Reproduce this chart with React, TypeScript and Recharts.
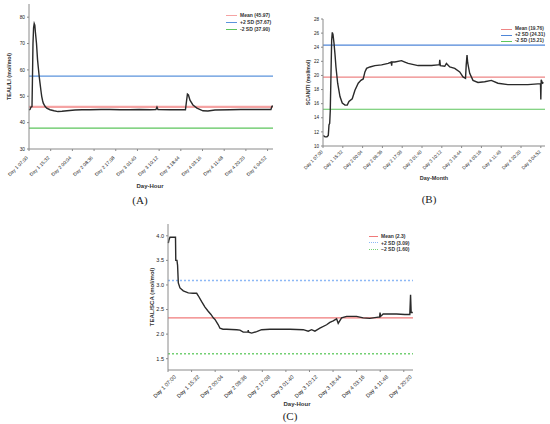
import React from 'react';
import { LineChart, Line, XAxis, YAxis, ReferenceLine } from 'recharts';

// ---- shared x ticks (minutes since Day 1 07:00) ----
const tickMinutes = [0, 512, 1024, 1536, 2048, 2560, 3072, 3584, 4096, 4608, 5120, 5632];
const tickLabels = ['Day 1 07:00', 'Day 1 15:32', 'Day 2 00:04', 'Day 2 08:36', 'Day 2 17:08', 'Day 3 01:40', 'Day 3 10:12', 'Day 3 18:44', 'Day 4 03:16', 'Day 4 11:48', 'Day 4 20:20', 'Day 5 04:52'];
const tickMinutesC = [0, 512, 1024, 1536, 2048, 2560, 3072, 3584, 4096, 4608, 5120];

// ---- Panel A: TEAL/LI ----
const timeA = [0, 24, 47, 71, 80, 94, 108, 123, 137, 153, 177, 201, 219, 241, 260, 283, 300, 319, 337, 378, 418, 496, 590, 684, 779, 897, 1086, 1250, 1440, 1700, 1912, 2150, 2384, 2600, 2856, 2997, 3021, 3044, 3328, 3693, 3717, 3740, 3764, 3800, 3870, 3965, 4106, 4224, 4390, 4744, 5000, 5216, 5570, 5711, 5735, 5758];
const valA = [44.9, 45.0, 45.9, 46.1, 55, 70, 76, 77.6, 77, 74, 70, 64, 61, 57.5, 55, 52, 50, 48.5, 47.4, 46.2, 45.5, 44.9, 44.5, 44.2, 44.3, 44.5, 44.8, 44.9, 44.9, 45.0, 45.0, 44.9, 44.9, 45.0, 44.9, 45.0, 45.9, 45.0, 44.9, 44.9, 48, 50.8, 50.5, 48.5, 46.7, 45.5, 44.5, 44.4, 44.8, 44.9, 45.0, 45.0, 45.0, 45.0, 46.2, 46.3];
const refA = [45.97, 57.67, 37.9];
const legendA = ['Mean (45.97)', '+2 SD (57.67)', '-2 SD (37.90)'];
const yTicksA = [30, 40, 50, 60, 70, 80];

// ---- Panel B: SCAN/TI ----
const timeB = [8, 52, 103, 137, 155, 173, 188, 206, 224, 240, 258, 284, 310, 335, 379, 439, 498, 568, 627, 671, 756, 826, 911, 980, 1040, 1084, 1127, 1213, 1342, 1514, 1685, 1767, 1775, 1785, 1858, 2030, 2116, 2201, 2459, 2804, 2975, 3008, 3019, 3034, 3148, 3191, 3277, 3406, 3535, 3620, 3685, 3703, 3724, 3741, 3793, 3878, 4007, 4180, 4352, 4523, 4781, 4954, 5297, 5555, 5624, 5632, 5642, 5676, 5702];
const valB = [11.5, 11.3, 11.3, 11.5, 13, 13.2, 15, 20, 25, 26.1, 25.8, 24.6, 23, 21.2, 18.9, 17, 16.1, 15.8, 15.8, 16.3, 16.7, 17.9, 18.9, 19.3, 19.5, 20.5, 21.0, 21.2, 21.4, 21.5, 21.7, 21.9, 21.4, 21.9, 21.9, 22.1, 21.9, 21.7, 21.4, 21.4, 21.5, 21.5, 22.2, 21.4, 21.3, 21.7, 21.2, 21.0, 20.5, 19.8, 19.6, 21.5, 22.9, 21.8, 20.3, 19.3, 19.0, 19.1, 19.3, 18.9, 18.7, 18.7, 18.7, 18.8, 18.8, 16.6, 19.4, 18.9, 19.0];
const refB = [19.76, 24.31, 15.21];
const legendB = ['Mean (19.76)', '+2 SD (24.31)', '-2 SD (15.21)'];
const yTicksB = [10, 12, 14, 16, 18, 20, 22, 24, 26, 28];

// ---- Panel C: TEAL/SCA ----
const timeC = [7, 22, 43, 109, 163, 169, 195, 208, 224, 260, 332, 441, 543, 623, 658, 731, 803, 868, 933, 983, 1020, 1092, 1128, 1194, 1274, 1491, 1562, 1634, 1736, 1742, 1751, 1816, 1925, 2033, 2213, 2430, 2647, 2936, 3045, 3118, 3190, 3298, 3444, 3515, 3587, 3661, 3696, 3769, 3878, 4095, 4238, 4383, 4528, 4596, 4604, 4617, 4672, 4963, 5143, 5251, 5267, 5280, 5316];
const valC = [3.85, 3.92, 3.97, 3.97, 3.97, 3.5, 3.5, 3.4, 3.04, 2.94, 2.88, 2.84, 2.83, 2.83, 2.78, 2.66, 2.55, 2.47, 2.40, 2.33, 2.30, 2.19, 2.12, 2.10, 2.10, 2.09, 2.08, 2.04, 2.04, 2.08, 2.04, 2.02, 2.05, 2.09, 2.10, 2.10, 2.10, 2.09, 2.06, 2.09, 2.06, 2.12, 2.19, 2.24, 2.27, 2.31, 2.22, 2.33, 2.36, 2.36, 2.33, 2.32, 2.34, 2.35, 2.44, 2.36, 2.41, 2.41, 2.40, 2.40, 2.80, 2.44, 2.44];
const refC = [2.33, 3.09, 1.6];
const legendC = ['Mean (2.3)', '+2 SD (3.09)', '\u22122 SD (1.60)'];
const yTicksC = [1.5, 2.0, 2.5, 3.0, 3.5, 4.0];

const refColorsA = ['#f5a3a3', '#5b93dc', '#5cc55c'];
const refColorsB = ['#ee8585', '#4f86d8', '#5cc55c'];
const refColorsC = ['#f07a7a', '#8db8f5', '#73d073'];

const FONT = '"Liberation Sans", Arial, sans-serif';
const AXIS = '#8a8a8a';

function makeRows(times: number[], vals: number[]) {
  return times.map((t, i) => ({ t, v: vals[i] }));
}

const RotTick = (props: any) => {
  const { x, y, payload, fs, labels, ticks, ox, oy } = props;
  const idx = ticks.indexOf(payload.value);
  return (
    <g transform={`translate(${x + ox},${y + oy})`}>
      <text x={0} y={0} dy={fs * 0.35} textAnchor="end" transform="rotate(-45)" fontSize={fs} fill="#222" fontFamily={FONT}>
        {labels[idx]}
      </text>
    </g>
  );
};

type PanelProps = {
  left: number; top: number; width: number; height: number;
  margin: any; yWidth: number; xHeight: number;
  rows: any[]; xDomain: number[]; yDomain: number[]; yTicks: number[]; yFmt: (v: number) => string;
  xTicks: number[]; refs: number[]; colors: string[]; dashed: boolean; refWidths: number[];
  yLabel: string; yLabelOffset: number; fs: number; labelFs: number; ox: number; oy: number;
};

function Panel(p: PanelProps) {
  return (
    <div style={{ position: 'absolute', left: p.left, top: p.top, width: p.width, height: p.height }}>
      <LineChart width={p.width} height={p.height} data={p.rows} margin={p.margin}>
        <XAxis dataKey="t" type="number" domain={p.xDomain} ticks={p.xTicks} interval={0}
          height={p.xHeight} stroke={AXIS} tickSize={2} tickMargin={1}
          tick={<RotTick fs={p.fs} labels={tickLabels} ticks={p.xTicks} ox={p.ox} oy={p.oy} />} />
        <XAxis xAxisId="top" orientation="top" dataKey="t" type="number" domain={p.xDomain} height={0} tick={false} tickLine={false} stroke={AXIS} />
        <YAxis type="number" domain={p.yDomain} ticks={p.yTicks} interval={0} width={p.yWidth} stroke={AXIS}
          tickSize={2} tickMargin={2} tickFormatter={p.yFmt}
          tick={{ fontSize: p.fs, fill: '#222', fontFamily: FONT }}
          label={{ value: p.yLabel, angle: -90, position: 'insideLeft', offset: p.yLabelOffset,
            style: { textAnchor: 'middle', fontSize: p.labelFs, fontWeight: 'bold', fill: '#333', fontFamily: FONT } }} />
        <YAxis yAxisId="right" orientation="right" type="number" domain={p.yDomain} width={0} tick={false} tickLine={false} stroke={AXIS} />
        {p.refs.map((r, i) => (
          <ReferenceLine key={i} y={r} stroke={p.colors[i]} strokeWidth={p.refWidths[i]}
            strokeDasharray={p.dashed && i > 0 ? '2 2' : undefined} ifOverflow="extendDomain" />
        ))}
        <Line dataKey="v" type="linear" stroke="#2a2a2a" strokeWidth={1.4} dot={false} isAnimationActive={false} />
      </LineChart>
    </div>
  );
}

function LegendBox({ left, top, labels, colors, dashed, fs, gap, lineW }: any) {
  return (
    <div style={{ position: 'absolute', left, top, fontFamily: FONT, fontSize: fs, fontWeight: 'bold', color: '#333', lineHeight: `${gap}px` }}>
      {labels.map((l: string, i: number) => (
        <div key={i} style={{ display: 'flex', alignItems: 'center', height: gap, whiteSpace: 'nowrap' }}>
          <span style={{ display: 'inline-block', width: lineW, marginRight: 3,
            borderTop: `1.5px ${dashed && i > 0 ? 'dotted' : 'solid'} ${colors[i]}` }} />
          <span>{l}</span>
        </div>
      ))}
    </div>
  );
}

const txt = (left: number, top: number, s: string, style: any) => (
  <div style={{ position: 'absolute', left, top, transform: 'translate(-50%, -50%)', whiteSpace: 'nowrap', ...style }}>{s}</div>
);

export default function App() {
  return (
    <div style={{ position: 'absolute', left: 0, top: 0, width: 550, height: 424, background: '#fff', overflow: 'hidden' }}>
      <Panel left={0} top={0} width={276} height={200} margin={{ top: 4, right: 3, left: 0, bottom: 0 }}
        yWidth={29} xHeight={51} rows={makeRows(timeA, valA)} xDomain={[0, 5760]} yDomain={[30, 85]}
        yTicks={yTicksA} yFmt={(v) => String(v)} xTicks={tickMinutes} refs={refA} colors={refColorsA}
        dashed={false} refWidths={[2.4, 1.2, 1.2]} yLabel="TEAL/LI (mol/mol)" yLabelOffset={9.5} fs={4.8} labelFs={5.5} ox={-2} oy={5} />
      <LegendBox left={226} top={12} labels={legendA} colors={refColorsA} dashed={false} fs={5} gap={7} lineW={11} />
      {txt(150, 186, 'Day-Hour', { fontFamily: FONT, fontSize: 6, fontWeight: 'bold', color: '#333' })}
      {txt(140, 200, '(A)', { fontFamily: '"Liberation Serif", serif', fontSize: 11, color: '#222' })}

      <Panel left={275} top={0} width={275} height={200} margin={{ top: 19, right: 5, left: 0, bottom: 0 }}
        yWidth={48} xHeight={54} rows={makeRows(timeB, valB)} xDomain={[0, 5740]} yDomain={[10, 28]}
        yTicks={yTicksB} yFmt={(v) => String(v)} xTicks={tickMinutes} refs={refB} colors={refColorsB}
        dashed={false} refWidths={[1.2, 1.2, 1.2]} yLabel="SCAN/TI (mol/mol)" yLabelOffset={33} fs={4.6} labelFs={5.2} ox={-1} oy={2} />
      <LegendBox left={501} top={26} labels={legendB} colors={refColorsB} dashed={false} fs={4.8} gap={6} lineW={11} />
      {txt(434, 178, 'Day-Month', { fontFamily: FONT, fontSize: 5.5, fontWeight: 'bold', color: '#333' })}
      {txt(429, 199, '(B)', { fontFamily: '"Liberation Serif", serif', fontSize: 11, color: '#222' })}

      <Panel left={130} top={215} width={290} height={209} margin={{ top: 9, right: 7, left: 0, bottom: 0 }}
        yWidth={38} xHeight={54} rows={makeRows(timeC, valC)} xDomain={[0, 5320]} yDomain={[1.27, 4.24]}
        yTicks={yTicksC} yFmt={(v) => v.toFixed(1)} xTicks={tickMinutesC} refs={refC} colors={refColorsC}
        dashed={true} refWidths={[1.2, 1.5, 1.5]} yLabel="TEAL/SCA (mol/mol)" yLabelOffset={21.5} fs={5.5} labelFs={6} ox={7} oy={3} />
      <LegendBox left={369} top={233} labels={legendC} colors={refColorsC} dashed={true} fs={5} gap={6.5} lineW={9} />
      {txt(297, 404, 'Day-Hour', { fontFamily: FONT, fontSize: 6, fontWeight: 'bold', color: '#333' })}
      {txt(290, 416, '(C)', { fontFamily: '"Liberation Serif", serif', fontSize: 11, color: '#222' })}
    </div>
  );
}
